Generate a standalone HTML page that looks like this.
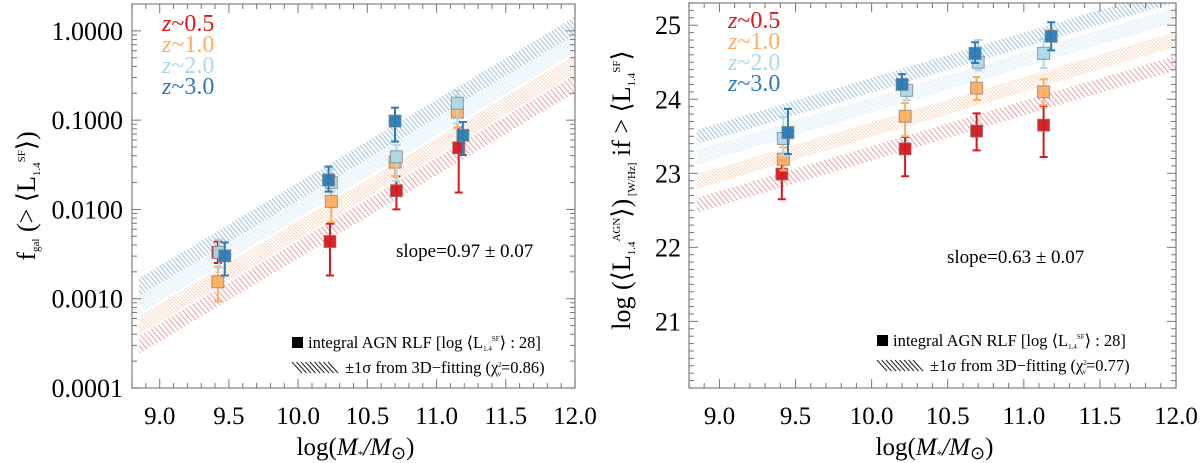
<!DOCTYPE html>
<html><head><meta charset="utf-8">
<style>
html,body{margin:0;padding:0;background:#fff;}
svg, svg text{font-family:"Liberation Serif","Times New Roman",serif;}
svg{display:block;}
</style></head>
<body>
<svg id="fig" width="1200" height="463" viewBox="0 0 1200 463" xmlns="http://www.w3.org/2000/svg" font-family="Liberation Serif, serif">
<defs>
<pattern id="hr" patternUnits="userSpaceOnUse" width="4" height="4" patternTransform="rotate(-40)"><line x1="0" y1="0" x2="0" y2="4" stroke="#e8757a" stroke-width="1.4"/></pattern>
<pattern id="ho" patternUnits="userSpaceOnUse" width="2.5" height="2.5" patternTransform="rotate(-45)"><line x1="0" y1="0" x2="0" y2="2.5" stroke="#f9b88a" stroke-width="1.1"/></pattern>
<pattern id="hl" patternUnits="userSpaceOnUse" width="2.5" height="2.5" patternTransform="rotate(-30)"><line x1="0" y1="0" x2="0" y2="2.5" stroke="#b9e0ef" stroke-width="1.1"/></pattern>
<pattern id="hd" patternUnits="userSpaceOnUse" width="3.5" height="3.5" patternTransform="rotate(-40)"><line x1="0" y1="0" x2="0" y2="3.5" stroke="#6fa8d6" stroke-width="1.4"/></pattern>
</defs>
</svg>
<script>
// ---------- data ----------
const zLabels = ["z~0.5","z~1.0","z~2.0","z~3.0"];
const colors = ["#d7191c","#fdae61","#abd9e9","#2c7bb6"];
const hatchIds = ["hr","ho","hl","hd"];
// left panel: log10 f_gal
const leftX = [[9.42,10.23,10.71,11.16],[9.42,10.24,10.70,11.15],[9.43,10.24,10.71,11.15],[9.47,10.22,10.70,11.19]];
const leftLogF = [[-2.48,-2.36,-1.79,-1.31],[-2.81,-1.91,-1.47,-0.91],[-2.48,-1.70,-1.41,-0.81],[-2.52,-1.67,-1.01,-1.17]];
const leftHi = [[-2.36,-2.16,-1.63,-1.08],[-2.64,-1.80,-1.36,-0.76],[-2.34,-1.55,-1.28,-0.67],[-2.37,-1.52,-0.86,-1.02]];
const leftLo = [[-2.60,-2.74,-2.00,-1.81],[-3.03,-2.14,-1.63,-1.08],[-2.65,-1.80,-1.68,-1.04],[-2.74,-1.80,-1.24,-1.39]];
const leftBandC = [-2.45,-2.23,-2.00,-1.80];
const leftSlope = 0.93, leftHalf = 0.1;
const leftTicks = [1,0.1,0.01,0.001,0.0001];
const leftTickLabels = ["1.0000","0.1000","0.0100","0.0010","0.0001"];
// right panel: log <L_AGN>
const rightX = [[9.41,10.22,10.69,11.13],[9.42,10.22,10.69,11.13],[9.42,10.23,10.70,11.13],[9.45,10.20,10.68,11.18]];
const rightL = [[22.99,23.33,23.57,23.65],[23.19,23.77,24.15,24.10],[23.47,24.12,24.50,24.62],[23.55,24.20,24.62,24.85]];
const rightHi = [[23.18,23.49,23.81,23.91],[23.35,23.95,24.30,24.27],[23.76,24.26,24.80,24.81],[23.87,24.34,24.77,25.04]];
const rightLo = [[22.65,22.96,23.31,23.22],[23.04,23.50,23.99,23.92],[23.24,23.99,24.39,24.42],[23.26,24.15,24.49,24.66]];
const rightBandC = [23.27,23.59,23.92,24.19];
const rightSlope = 0.61, rightHalf = 0.1;
const rightTicks = [21,22,23,24,25];
const xTicks = [9.0,9.5,10.0,10.5,11.0,11.5,12.0];
const xTickLabels = ["9.0","9.5","10.0","10.5","11.0","11.5","12.0"];

const svg = document.getElementById('fig');
const NS = "http://www.w3.org/2000/svg";
function mk(tag, attrs, parent){const e=document.createElementNS(NS,tag);for(const k in attrs)e.setAttribute(k,attrs[k]);if(tag==='text')e.setAttribute('font-family','Liberation Serif, serif');(parent||svg).appendChild(e);return e;}

function panel(P){
  const g = mk('g',{});
  
  
  const sx = v => P.x0 + (v-8.8)/(12.0-8.8)*(P.x1-P.x0);
  const sy = v => P.y1 - (v-P.ymin)/(P.ymax-P.ymin)*(P.y1-P.y0);
  const clipId = P.name+'-clip';
  const cp = mk('clipPath',{id:clipId},g); mk('rect',{x:P.x0,y:P.y0,width:P.x1-P.x0,height:P.y1-P.y0},cp);
  const bg = mk('g',{'clip-path':'url(#'+clipId+')'},g);
  for(let i=0;i<4;i++){
    const xa=8.85, xb=12.0;
    const c=P.bandC[i], s=P.slope, h=P.half;
    const pts=[[xa,c+s*(xa-10)+h],[xb,c+s*(xb-10)+h],[xb,c+s*(xb-10)-h],[xa,c+s*(xa-10)-h]];
    const b = mk('polygon',{points:pts.map(p=>sx(p[0])+','+sy(p[1])).join(' '),fill:'url(#'+hatchIds[i]+')'},bg);
    
    
  }
  const fr = mk('rect',{x:P.x0,y:P.y0,width:P.x1-P.x0,height:P.y1-P.y0,fill:'none',stroke:'#8a8a8a','stroke-width':1.3},g);
  
  
  for(let v=8.8; v<=12.001; v+=0.1){
    const major = Math.abs((v*2)-Math.round(v*2))<0.01;
    const L = major?9:5, x=sx(v);
    mk('line',{x1:x,x2:x,y1:P.y1,y2:P.y1-L,stroke:'#777','stroke-width':1},g);
    mk('line',{x1:x,x2:x,y1:P.y0,y2:P.y0+L,stroke:'#777','stroke-width':1},g);
  }
  xTicks.forEach((v,i)=>{
    const t = mk('text',{x:sx(v),y:P.y1+36,'font-size':25,'text-anchor':'middle',fill:'#000'},g);
    t.textContent = xTickLabels[i];
    
    
  });
  const xt = mk('text',{x:(P.x0+P.x1)/2+2,y:455,'font-size':25,'text-anchor':'middle'},g);
  xt.innerHTML = 'log(<tspan font-style="italic">M</tspan><tspan font-size="11" dy="3">*</tspan><tspan dy="-3" font-style="italic">/M</tspan><tspan font-size="18" dy="4">⊙</tspan><tspan dy="-4">)</tspan>';
  
  
  P.yticks(g,sx,sy);
  for(let i=0;i<4;i++){
    for(let j=0;j<4;j++){
      const x=sx(P.X[i][j]);
      const eb = mk('path',{d:`M${x},${sy(P.hi[i][j])}V${sy(P.lo[i][j])}M${x-4},${sy(P.hi[i][j])}H${x+4}M${x-4},${sy(P.lo[i][j])}H${x+4}`,stroke:colors[i],'stroke-width':2,fill:'none'},g);
      
      
      const sq = mk('rect',{x:x-6,y:sy(P.Y[i][j])-6,width:12,height:12,fill:colors[i],stroke:'#7a7a7a','stroke-opacity':0.7,'stroke-width':1,'fill-opacity':0.95},g);
      
      
    }
  }
  for(let i=0;i<4;i++){
    const t = mk('text',{x:P.legX,y:P.legY+i*21,'font-size':24,fill:colors[i]},g);
    t.innerHTML = '<tspan font-style="italic">z</tspan>'+zLabels[i].slice(1);
    
    
  }
  const sl = mk('text',{x:P.slopeX,y:P.slopeY,'font-size':19},g);
  sl.textContent = P.slopeText;
  
  
  const lx=P.bl, ly=P.bly;
  const sqm = mk('rect',{x:lx,y:ly-11,width:11,height:11,fill:'#000'},g);
  
  
  const l1 = mk('text',{x:lx+16,y:ly,'font-size':16.5},g);
  l1.innerHTML='integral AGN RLF [log ⟨L<tspan font-size="7" dy="3">1.4</tspan><tspan font-size="7" dy="-10">SF</tspan><tspan dy="7">⟩ : 28]</tspan>';
  
  
  let hp='';
  for(let k=0;k<9;k++){hp+=`M${lx+k*4.5},${ly+14}L${lx+k*4.5+10},${ly+25}`;}
  const hm = mk('path',{d:hp,stroke:'#222','stroke-width':1},g);
  
  
  const l2 = mk('text',{x:lx+P.l2off,y:ly+25,'font-size':16.5},g);
  l2.innerHTML='±1σ from 3D−fitting (χ<tspan font-size="7" dy="-6">2</tspan><tspan font-size="7" dy="9" dx="-4">ν</tspan><tspan dy="-3">='+P.chi+')</tspan>';
  
  
}

panel({name:'left-panel',x0:132,x1:575,y0:4,y1:388,ymin:-4,ymax:0.301,
  X:leftX,Y:leftLogF,hi:leftHi,lo:leftLo,bandC:leftBandC,slope:leftSlope,half:leftHalf,
  legX:162,legY:31,slopeX:396,slopeY:257,slopeText:'slope=0.97 ± 0.07',bl:292,bly:348,l2off:53,chi:'0.86',
  yticks:function(g,sx,sy){
    for(let d=-4; d<=0; d++){
      for(let m=1;m<10;m++){
        const v=d+Math.log10(m); if(v>0.301) break;
        const y=sy(v), L=m===1?9:5;
        mk('line',{x1:132,x2:132+L,y1:y,y2:y,stroke:'#777'},g);
        mk('line',{x1:575,x2:575-L,y1:y,y2:y,stroke:'#777'},g);
      }
    }
    leftTicks.forEach((v,i)=>{
      const t=mk('text',{x:123,y:sy(Math.log10(v))+9,'font-size':26,'text-anchor':'end'},g);
      t.textContent=leftTickLabels[i];
      
      
    });
    const yt=mk('text',{x:0,y:0,'font-size':26,'text-anchor':'middle',transform:'translate(35,196) rotate(-90)'},g);
    yt.innerHTML='f<tspan font-size="11" dy="4">gal</tspan><tspan dy="-4"> (&gt; ⟨L</tspan><tspan font-size="11" dy="5">1.4</tspan><tspan font-size="11" dy="-15">SF</tspan><tspan dy="10">⟩)</tspan>';
    
    
  }});

panel({name:'right-panel',x0:689,x1:1176,y0:3,y1:388,ymin:20.1,ymax:25.3,
  X:rightX,Y:rightL,hi:rightHi,lo:rightLo,bandC:rightBandC,slope:rightSlope,half:rightHalf,
  legX:728,legY:28,slopeX:947,slopeY:263,slopeText:'slope=0.63 ± 0.07',bl:877,bly:346,l2off:53,chi:'0.77',
  yticks:function(g,sx,sy){
    for(let k=0;k<=52;k++){
      const v=20.1+k*0.1, major=Math.abs(v-Math.round(v))<0.01, y=sy(v), L=major?9:5;
      mk('line',{x1:689,x2:689+L,y1:y,y2:y,stroke:'#777'},g);
      mk('line',{x1:1176,x2:1176-L,y1:y,y2:y,stroke:'#777'},g);
    }
    rightTicks.forEach(v=>{
      const t=mk('text',{x:681,y:sy(v)+9,'font-size':26,'text-anchor':'end'},g);
      t.textContent=String(v);
      
      
    });
    const yt=mk('text',{x:0,y:0,'font-size':26,'text-anchor':'middle',transform:'translate(630,190) rotate(-90)'},g);
    yt.innerHTML='log (⟨L<tspan font-size="11" dy="5">1.4</tspan><tspan font-size="11" dy="-15">AGN</tspan><tspan dy="10">⟩)</tspan><tspan font-size="11" dy="5"> [W/Hz]</tspan><tspan dy="-5"> if &gt; ⟨L</tspan><tspan font-size="11" dy="5">1.4</tspan><tspan font-size="11" dy="-15">SF</tspan><tspan dy="10">⟩</tspan>';
    
    
  }});
</script>
</body></html>
